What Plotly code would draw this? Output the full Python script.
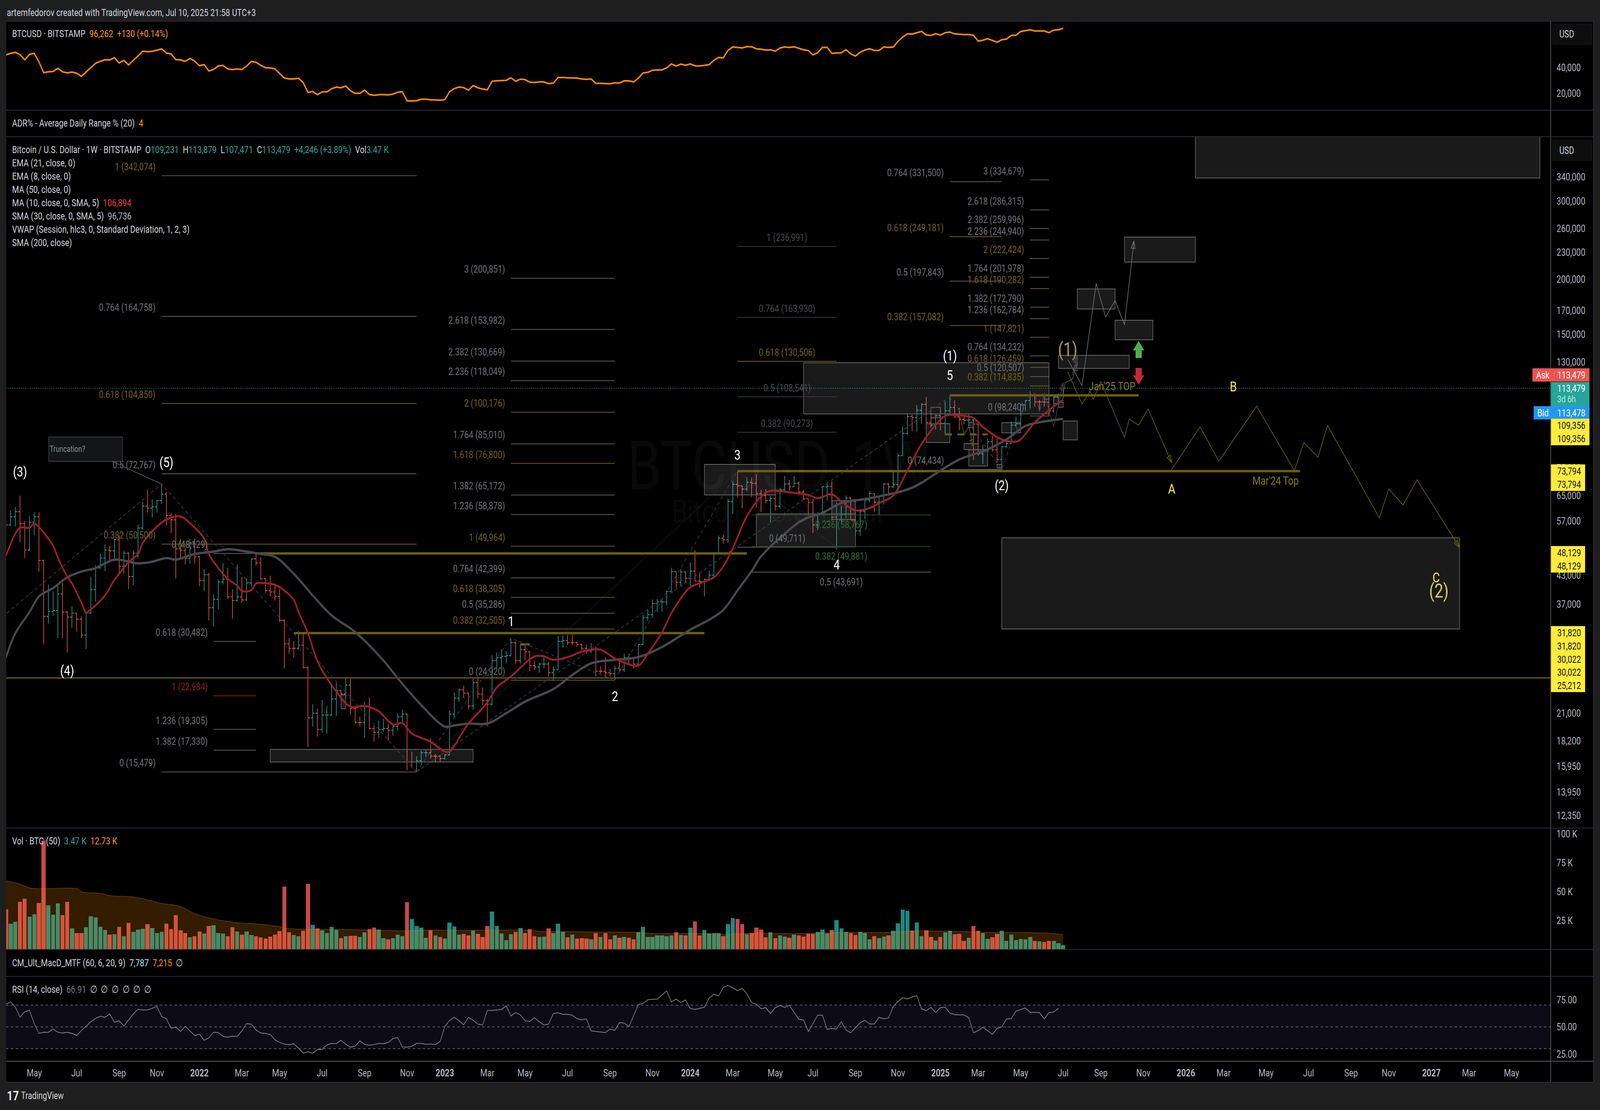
import math
import pandas as pd
import plotly.graph_objects as go

W, H = 5160, 2842

# weekly bars of BITSTAMP:BTCUSD, thousands of USD, first bar is the week of 2021-03-22
first_bar = pd.Timestamp("2021-03-22")

open_k = [
    57.3, 55.8, 58.2, 59.8, 56.2, 49.0, 56.6, 58.2, 46.4, 34.7, 35.6, 35.8, 39.0, 35.5, 34.6, 35.3, 34.2, 31.5, 35.3, 39.9,
    44.6, 47.0, 49.0, 48.8, 51.7, 45.0, 48.2, 42.7, 48.2, 54.9, 61.5, 60.9, 61.3, 63.3, 65.5, 58.6, 57.3, 49.3, 48.9, 46.9, 50.8,
    47.3, 41.8, 43.1, 36.3, 37.9, 41.5, 42.1, 38.4, 37.7, 38.4, 37.8, 41.3, 46.8, 45.8, 42.2, 39.7, 39.4, 38.5, 34.0, 30.1,
    29.4, 29.4, 29.9, 26.6, 20.5, 21.0, 19.3, 20.8, 20.8, 22.6, 23.6, 23.2, 24.3, 21.5, 20.0, 20.0, 21.8, 19.4, 19.0, 19.3,
    19.4, 19.2, 19.6, 20.6, 20.9, 16.3, 16.3, 16.4, 17.1, 17.1, 16.8, 16.8,
    16.6, 16.9, 20.9, 22.7, 23.7, 23.3, 21.8, 24.6, 23.2, 22.4, 22.0, 27.6, 28.0, 28.2, 28.3, 30.3, 27.6, 29.2, 28.9, 26.9,
    26.7, 27.1, 27.1, 25.9, 26.3, 30.5, 30.6, 30.3, 30.3, 30.0, 29.4, 29.0, 29.3, 26.1, 26.1, 25.9, 25.8, 26.5, 26.3, 28.0,
    27.9, 27.1, 30.0, 34.5, 35.0, 37.1, 37.4, 37.4, 39.5, 43.8, 41.4, 43.7,
    42.3, 43.9, 41.7, 41.6, 42.1, 43.0, 48.3, 52.1, 51.7, 63.0, 68.9, 68.4, 67.2, 69.6, 69.3, 65.7, 64.9, 63.4, 64.0, 61.5,
    67.0, 69.0, 68.0, 69.3, 66.2, 63.9, 62.7, 55.8, 59.2, 68.0, 68.2, 58.1, 58.7, 58.9, 64.2, 57.3, 54.1, 59.9, 63.5, 65.7,
    62.8, 62.9, 69.0, 68.0, 68.8, 80.0, 89.8, 98.0, 97.4, 101.2, 104.4, 95.0, 93.7,
    98.4, 94.6, 101.0, 102.7, 97.7, 96.5, 96.1, 96.3, 94.2, 80.7, 82.6, 86.0, 82.4, 78.3, 83.7, 85.1, 93.7, 94.3, 104.1, 106.5,
    109.0, 105.7, 105.7, 105.6, 100.9, 108.3, 109.231,
]
high_k = [
    58.4, 60.2, 61.3, 64.9, 57.0, 58.5, 59.6, 59.6, 46.6, 40.9, 39.5, 41.0, 41.3, 35.7, 36.6, 35.4, 34.7, 35.4, 42.6, 45.3,
    48.1, 50.5, 50.0, 51.9, 52.9, 48.8, 48.4, 49.0, 56.0, 62.9, 67.0, 63.7, 63.5, 69.0, 66.3, 59.4, 59.1, 51.9, 49.5, 51.9, 52.0,
    47.5, 44.4, 43.5, 38.9, 42.0, 45.8, 44.7, 40.0, 45.4, 42.6, 42.3, 46.9, 48.2, 47.2, 42.4, 42.9, 40.8, 40.0, 34.2, 31.0,
    30.5, 32.2, 31.7, 26.8, 22.0, 21.5, 22.5, 21.8, 24.3, 24.6, 23.7, 25.2, 25.1, 21.8, 20.6, 22.3, 22.8, 19.7, 20.2, 20.4,
    19.9, 19.7, 21.0, 21.4, 21.0, 17.2, 16.8, 17.3, 17.4, 18.4, 17.0, 16.9,
    17.0, 21.3, 23.4, 23.9, 24.2, 23.4, 25.2, 25.2, 24.0, 22.6, 28.4, 28.8, 29.2, 29.0, 31.0, 30.5, 30.0, 29.8, 28.9, 27.6,
    27.3, 28.4, 27.4, 26.8, 31.4, 31.4, 31.5, 31.8, 30.4, 30.1, 30.0, 30.2, 29.7, 26.8, 28.1, 26.4, 26.9, 27.4, 28.6, 28.6,
    28.0, 30.0, 35.0, 35.9, 37.9, 38.0, 38.0, 39.7, 44.7, 43.9, 44.4, 43.8,
    45.9, 49.0, 43.6, 42.2, 44.0, 48.5, 52.8, 53.0, 64.0, 70.0, 73.8, 68.5, 71.5, 71.3, 72.7, 66.9, 67.2, 64.7, 65.5, 67.6,
    72.0, 70.5, 72.0, 70.0, 67.0, 64.0, 63.8, 59.6, 68.0, 69.5, 70.0, 62.7, 61.8, 65.0, 64.5, 59.8, 60.6, 64.0, 66.5, 65.7,
    64.4, 69.4, 69.5, 73.6, 81.0, 93.3, 99.6, 98.9, 104.0, 105.0, 108.4, 99.9, 98.9,
    102.7, 106.0, 109.3, 106.5, 102.5, 98.8, 99.5, 96.5, 94.4, 84.5, 87.4, 88.7, 88.5, 84.3, 86.5, 95.7, 97.9, 104.3, 106.7, 111.9,
    110.7, 106.8, 110.6, 108.9, 108.5, 110.5, 113.879,
]
low_k = [
    50.4, 55.4, 55.4, 51.0, 47.0, 48.8, 52.9, 43.8, 30.0, 33.5, 34.8, 31.0, 31.0, 28.8, 32.7, 32.1, 31.0, 29.3, 35.2, 37.5,
    44.6, 43.9, 46.4, 46.7, 43.0, 43.4, 40.0, 40.8, 46.9, 54.4, 59.5, 58.0, 59.5, 62.3, 55.6, 53.5, 42.3, 46.7, 45.5, 45.6, 45.7,
    40.6, 39.6, 34.0, 32.9, 36.0, 41.0, 38.0, 34.3, 37.5, 37.2, 37.6, 40.5, 45.2, 41.9, 39.2, 38.5, 37.7, 33.7, 26.5, 28.6,
    28.0, 29.2, 26.5, 17.6, 19.6, 18.6, 19.0, 18.9, 20.7, 20.7, 22.4, 22.7, 20.8, 19.9, 19.6, 18.5, 19.3, 18.1, 18.5, 19.1,
    18.2, 18.7, 19.2, 20.0, 15.6, 15.8, 15.5, 16.0, 16.7, 16.6, 16.3, 16.3,
    16.5, 16.9, 20.4, 22.3, 22.7, 21.4, 21.4, 22.7, 21.9, 19.6, 21.9, 26.6, 26.5, 27.2, 28.2, 27.1, 27.2, 27.7, 26.1, 26.3,
    25.9, 26.5, 25.4, 24.8, 26.3, 29.5, 29.9, 29.9, 29.6, 29.1, 28.6, 28.7, 25.4, 25.8, 25.3, 25.4, 24.9, 26.0, 26.0, 27.2,
    26.5, 27.1, 29.9, 33.9, 34.5, 35.5, 35.6, 36.7, 39.5, 40.2, 40.5, 41.3,
    40.7, 41.7, 40.3, 38.5, 41.8, 42.3, 48.2, 50.6, 50.9, 59.0, 64.5, 60.8, 66.4, 64.5, 61.0, 59.7, 62.4, 56.5, 60.2, 60.8,
    66.7, 66.7, 68.0, 65.0, 63.4, 58.5, 53.5, 54.3, 59.1, 63.4, 57.1, 49.1, 56.2, 57.8, 57.2, 52.5, 52.7, 57.5, 62.7, 59.8,
    58.9, 62.0, 65.0, 67.6, 66.8, 79.9, 89.3, 90.7, 90.5, 94.3, 92.0, 92.4, 91.5,
    91.2, 89.3, 99.6, 97.7, 91.2, 94.0, 93.3, 78.2, 80.0, 76.6, 81.2, 81.6, 77.1, 74.4, 83.1, 85.0, 92.8, 93.4, 100.8, 102.1,
    103.1, 100.4, 103.0, 98.2, 99.9, 105.1, 107.471,
]
close_k = [
    55.8, 58.2, 59.8, 56.2, 49.0, 56.6, 58.2, 46.4, 34.7, 35.6, 35.8, 39.0, 35.5, 34.6, 35.3, 34.2, 31.5, 35.3, 39.9, 44.6,
    47.0, 49.0, 48.8, 51.7, 45.0, 48.2, 42.7, 48.2, 54.9, 61.5, 60.9, 61.3, 63.3, 65.5, 58.6, 57.3, 49.3, 48.9, 46.9, 50.8, 47.3,
    41.8, 43.1, 36.3, 37.9, 41.5, 42.1, 38.4, 37.7, 38.4, 37.8, 41.3, 46.8, 45.8, 42.2, 39.7, 39.4, 38.5, 34.0, 30.1, 29.4,
    29.4, 29.9, 26.6, 20.5, 21.0, 19.3, 20.8, 20.8, 22.6, 23.6, 23.2, 24.3, 21.5, 20.0, 20.0, 21.8, 19.4, 19.0, 19.3, 19.4,
    19.2, 19.6, 20.6, 20.9, 16.3, 16.3, 16.4, 17.1, 17.1, 16.8, 16.8, 16.6,
    16.9, 20.9, 22.7, 23.7, 23.3, 21.8, 24.6, 23.2, 22.4, 22.0, 27.6, 28.0, 28.2, 28.3, 30.3, 27.6, 29.2, 28.9, 26.9, 26.7,
    27.1, 27.1, 25.9, 26.3, 30.5, 30.6, 30.3, 30.3, 30.0, 29.4, 29.0, 29.3, 26.1, 26.1, 25.9, 25.8, 26.5, 26.3, 28.0, 27.9,
    27.1, 30.0, 34.5, 35.0, 37.1, 37.4, 37.4, 39.5, 43.8, 41.4, 43.7, 42.3,
    43.9, 41.7, 41.6, 42.1, 43.0, 48.3, 52.1, 51.7, 63.0, 68.9, 68.4, 67.2, 69.6, 69.3, 65.7, 64.9, 63.4, 64.0, 61.5, 67.0,
    69.0, 68.0, 69.3, 66.2, 63.9, 62.7, 55.8, 59.2, 68.0, 68.2, 58.1, 58.7, 58.9, 64.2, 57.3, 54.1, 59.9, 63.5, 65.7, 62.8,
    62.9, 69.0, 68.0, 68.8, 80.0, 89.8, 98.0, 97.4, 101.2, 104.4, 95.0, 93.7, 98.4,
    94.6, 101.0, 102.7, 97.7, 96.5, 96.1, 96.3, 94.2, 80.7, 82.6, 86.0, 82.4, 78.3, 83.7, 85.1, 93.7, 94.3, 104.1, 106.5, 109.0,
    105.7, 105.7, 105.6, 100.9, 108.3, 109.2, 113.479,
]

# MA (10, SMA 5) and SMA (30, SMA 5) read at the bar numbers below
ma10_bars = [0, 2, 3, 5, 6, 7, 10, 11, 13, 14, 16, 17, 18, 21, 23, 24, 26, 28, 29, 31, 34, 37, 39, 42, 43, 45, 47, 49, 50, 52,
             53, 54, 57, 59, 61, 62, 64, 66, 68, 70, 73, 76, 79, 82, 84, 86, 90, 93, 94, 97, 98, 102, 104, 107, 112, 114, 116,
             119, 122, 124, 126, 129, 131, 134, 136, 139, 141, 144, 145, 148, 150, 152, 154, 157, 160, 162, 166, 170, 172,
             175, 177, 180, 183, 185, 188, 191, 194, 197, 199, 202, 205, 207, 211, 214, 215, 218, 221, 223, 224]
ma10_k = [47.5, 53.3, 55.0, 55.0, 56.2, 55.2, 50.1, 47.1, 42.7, 41.2, 37.3, 35.4, 36.0, 38.7, 42.0, 43.3, 46.0, 48.0, 50.8, 54.0,
          57.4, 58.3, 56.3, 52.0, 48.0, 44.6, 42.2, 40.7, 39.6, 39.8, 41.2, 41.3, 40.9, 39.7, 37.8, 35.5, 31.8, 27.5, 25.2, 23.5,
          21.7, 21.8, 21.2, 19.8, 19.95, 18.9, 18.1, 17.2, 17.2, 19.2, 19.9, 22.2, 24.0, 25.4, 28.2, 28.2, 27.7, 28.1, 28.9, 29.2,
          29.2, 27.9, 27.3, 26.9, 28.6, 31.9, 35.3, 39.4, 40.4, 41.6, 42.5, 45.0, 49.4, 58.4, 64.6, 66.6, 66.1, 65.2, 64.1, 65.4,
          63.0, 60.2, 60.9, 62.5, 65.0, 74.0, 85.0, 93.8, 98.3, 98.5, 97.2, 92.8, 87.0, 86.0, 87.0, 95.0, 101.2, 105.0, 106.894]
sma30_bars = [0, 2, 5, 7, 10, 13, 16, 19, 23, 28, 31, 34, 36, 40, 44, 47, 50, 54, 57, 61, 65, 69, 74, 80, 83, 88, 93, 95, 98,
              102, 106, 110, 116, 120, 124, 129, 134, 139, 145, 149, 152, 155, 158, 160, 165, 169, 173, 177, 183, 192, 198,
              202, 208, 212, 216, 220, 224]
sma30_k = [28.0, 31.8, 35.5, 38.5, 40.2, 42.5, 43.8, 44.6, 46.6, 45.7, 46.1, 47.0, 46.6, 48.0, 48.6, 49.2, 48.8, 48.0, 47.3, 43.3,
           38.7, 34.9, 32.0, 27.6, 25.2, 21.9, 19.6, 19.7, 19.9, 19.9, 21.0, 22.3, 23.8, 25.6, 27.2, 27.7, 28.1, 29.6, 32.4, 34.1,
           35.9, 39.7, 43.9, 47.4, 53.3, 57.4, 59.4, 62.5, 64.1, 67.7, 74.0, 78.4, 82.6, 87.0, 93.3, 95.5, 96.736]

# volume in thousands of BTC
volume_k = [
    34.8, 22.0, 23.8, 41.0, 43.7, 28.1, 30.2, 40.0, 94.3, 38.2, 29.9, 39.7, 29.4, 41.0, 18.0, 14.1, 13.8, 19.0, 28.4, 27.5,
    19.3, 16.5, 12.5, 12.8, 19.3, 11.4, 22.6, 14.9, 17.0, 17.7, 21.7, 18.3, 13.8, 14.9, 22.0, 17.2, 29.4, 16.2, 13.8, 10.1,
    11.1, 15.3, 13.5, 20.2, 20.7, 14.1, 13.5, 11.1, 19.0, 15.3, 12.5, 15.3, 12.2, 11.4, 10.1, 9.2, 10.8, 12.5, 15.6, 54.3,
    14.6, 12.2, 11.1, 15.9, 56.7, 21.0, 18.0, 16.2, 13.8, 19.3, 16.5, 9.5, 11.1, 11.6, 11.6, 10.4, 14.6, 17.2, 18.6, 16.9,
    9.5, 8.4, 9.5, 12.5, 11.4, 40.6, 26.3, 19.9, 18.6, 9.8, 16.2, 11.9, 10.4, 9.2, 23.0, 19.6, 12.5, 13.2, 11.9, 15.9,
    13.2, 10.4, 19.9, 32.6, 20.2, 13.5, 8.0, 12.8, 14.9, 18.3, 14.1, 17.2, 11.1, 10.4, 10.8, 18.0, 14.1, 22.0,
    14.9, 10.1, 12.5, 9.2, 9.5, 9.2, 8.4, 13.8, 10.4, 14.1, 8.4, 11.9, 9.8, 10.4, 9.8, 8.4, 14.6, 19.3, 10.4, 10.4,
    11.9, 11.9, 11.1, 11.9, 14.6, 12.2, 11.9, 18.6, 24.1, 11.9, 16.5, 13.5, 13.8, 13.8, 11.1, 21.7, 26.8, 26.3, 21.7, 12.8,
    14.1, 18.6, 16.9, 10.1, 14.6, 9.5, 11.9, 10.8, 9.8, 12.5, 11.9, 10.8, 13.2, 13.2, 14.9, 16.9, 13.5, 16.5, 25.1, 18.0,
    14.9, 13.8, 12.2, 14.9, 14.1, 8.4, 11.4, 9.5, 10.8, 11.9, 15.9, 22.3, 34.2, 33.2, 15.9, 23.0, 11.4, 16.2, 10.4, 7.4,
    10.4, 14.6, 15.9, 12.8, 13.2, 7.1, 9.8, 20.2, 15.9, 13.8, 8.8, 10.1, 13.2, 15.9, 7.1, 12.5, 8.0, 8.8, 8.4, 10.4,
    7.1, 6.7, 6.1, 7.1, 7.1, 5.0, 3.47,
]
vol_ma_bars = [0, 3, 5, 7, 10, 15, 16, 20, 22, 27, 30, 33, 36, 38, 40, 43, 46, 50, 52, 58, 59, 64, 67, 74, 82, 84, 89, 97, 104,
               111, 114, 117, 127, 134, 137, 143, 147, 152, 158, 166, 171, 179, 187, 192, 197, 202, 207, 219, 224]
vol_ma_k = [59.3, 56.5, 53.3, 52.5, 52.6, 52.5, 49.8, 48.5, 46.5, 45.3, 42.8, 39.7, 38.0, 35.1, 30.8, 27.2, 24.7, 22.6, 22.3, 19.6,
            18.3, 17.2, 17.2, 16.9, 16.0, 15.9, 16.5, 16.4, 16.5, 16.4, 15.1, 15.3, 14.8, 14.6, 13.6, 13.6, 13.5, 12.8, 13.8, 13.5,
            13.8, 14.6, 14.6, 15.9, 15.7, 15.4, 14.6, 14.1, 12.73]

rsi = [
    70.8, 73.0, 68.2, 58.9, 64.0, 65.2, 53.0, 44.1, 45.1, 45.1, 48.1, 45.1, 44.4, 45.1, 44.1, 42.1, 46.6, 50.8, 54.7, 57.8,
    59.8, 58.9, 61.8, 54.2, 55.7, 50.8, 56.4, 62.0, 66.2, 65.5, 65.7, 67.0, 68.9, 59.5, 57.4, 48.8, 49.7, 45.9, 50.5, 46.3,
    42.1, 43.4, 37.7, 39.9, 45.1, 44.8, 41.2, 40.5, 41.6, 41.2, 46.3, 53.0, 52.5, 47.1, 44.4, 44.1, 43.1, 38.2, 35.7, 34.2,
    33.5, 34.5, 30.4, 25.9, 27.2, 25.7, 29.2, 29.4, 33.3, 34.8, 34.6, 37.7, 34.1, 31.3, 32.4, 37.2, 34.0, 33.1, 33.8, 34.8,
    34.6, 35.7, 39.2, 40.2, 31.6, 31.4, 32.1, 34.8, 34.8, 34.0, 34.3, 33.8, 36.5, 50.5, 56.1, 58.8, 55.7, 52.0, 58.8, 56.1,
    52.5, 51.7, 65.2, 65.2, 65.5, 66.0, 69.4, 60.1, 63.2, 61.1, 55.7, 55.1, 58.4, 54.7, 51.7, 52.7, 62.3, 63.0, 61.5, 61.6,
    60.8, 57.6, 56.4, 57.4, 46.3, 45.8, 45.3, 44.8, 48.0, 46.8, 53.9, 53.5, 50.2, 60.6, 70.6, 71.6, 75.0, 75.3, 75.5, 79.2,
    83.1, 73.0, 75.5, 72.4, 74.8, 66.9, 66.2, 67.0, 68.1, 76.5, 80.0, 78.5, 86.3, 88.1, 85.9, 83.4, 85.3, 80.5, 72.4, 70.8,
    66.7, 67.7, 62.3, 67.7, 69.7, 67.9, 69.9, 63.2, 57.1, 56.2, 45.9, 53.0, 60.8, 60.8, 47.8, 48.5, 48.1, 54.7, 47.1, 44.6,
    49.3, 53.9, 56.1, 52.7, 52.7, 58.8, 57.4, 58.3, 68.6, 73.3, 76.8, 75.7, 77.5, 78.7, 66.5, 65.0, 67.9, 63.3, 67.7, 68.2,
    62.7, 61.3, 61.0, 61.0, 58.4, 44.6, 46.6, 49.7, 46.6, 43.2, 48.5, 50.0, 57.3, 57.6, 64.5, 65.9, 67.4, 63.5, 63.3, 63.2,
    57.3, 63.2, 63.7, 66.91,
]
rsi_levels = [70, 50, 30]

month_ticks = ["2021-05-03", "2021-07-05", "2021-09-06", "2021-11-01", "2022-01-03", "2022-03-07", "2022-05-02", "2022-07-04",
               "2022-09-05", "2022-11-07", "2023-01-02", "2023-03-06", "2023-05-01", "2023-07-03", "2023-09-04", "2023-11-06",
               "2024-01-01", "2024-03-04", "2024-05-06", "2024-07-01", "2024-09-02", "2024-11-04", "2025-01-06", "2025-03-03",
               "2025-05-05", "2025-07-07", "2025-09-01", "2025-11-03", "2026-01-05", "2026-03-02", "2026-05-04", "2026-07-06",
               "2026-09-07", "2026-11-02", "2027-01-04", "2027-03-01", "2027-05-03"]
month_labels = ["May", "Jul", "Sep", "Nov", "<b>2022</b>", "Mar", "May", "Jul", "Sep", "Nov", "<b>2023</b>", "Mar", "May", "Jul",
                "Sep", "Nov", "<b>2024</b>", "Mar", "May", "Jul", "Sep", "Nov", "<b>2025</b>", "Mar", "May", "Jul", "Sep", "Nov",
                "<b>2026</b>", "Mar", "May", "Jul", "Sep", "Nov", "<b>2027</b>", "Mar", "May"]
price_ticks = [340000, 300000, 260000, 230000, 200000, 170000, 150000, 130000, 75000, 65000, 57000, 49000, 43000, 37000, 21000,
               18200, 15950, 13950, 12350]

# fib tools: (level, price, tone) g gray, o olive, r red, d dim, v green
fib_a_levels = [1, 0.764, 0.618, 0.5, 0.382, 0]
fib_a_prices = [342074, 164758, 104850, 72767, 50500, 15479]
fib_a_tones = "ogogog"
fib_b_levels = [0, 0.618, 1, 1.236, 1.382]
fib_b_prices = [48129, 30482, 22984, 19305, 17330]
fib_b_tones = "ggrgg"
fib_c_levels = [3, 2.618, 2.382, 2.236, 2, 1.764, 1.618, 1.382, 1.236, 1, 0.764, 0.618, 0.5, 0.382, 0]
fib_c_prices = [200851, 153982, 130669, 118049, 100176, 85010, 76800, 65172, 58878, 49964, 42399, 38305, 35286, 32505, 24920]
fib_c_tones = "ggggogoggogogog"
fib_d_levels = [1, 0.764, 0.618, 0.5, 0.382, 0]
fib_d_prices = [236991, 163930, 130506, 108541, 90273, 49711]
fib_d_tones = "ddoddg"
fib_e_levels = [0.236, 0.382, 0.5]
fib_e_prices = [58767, 49881, 43691]
fib_e_tones = "vvg"
fib_f_levels = [0.764, 0.618, 0.5, 0.382, 0]
fib_f_prices = [331500, 249181, 197843, 157082, 74434]
fib_f_tones = "gogog"
fib_g_levels = [3, 2.618, 2.382, 2.236, 2, 1.764, 1.618, 1.382, 1.236, 1, 0.764, 0.618, 0.5, 0.382, 0]
fib_g_prices = [334679, 286315, 259996, 244940, 222424, 201978, 190282, 172790, 162784, 147821, 134232, 126459, 120507, 114835, 98240]
fib_g_tones = "ggggogoggogogog"

# rectangles drawn on the chart: first bar, last bar, top price, bottom price
box_from = [252, 237, 227, 235, 223, 169, 224, 211, 195, 196, 204, 203, 210, 211, 204, 220, 222, 223, 56, 71, 148, 159, 175]
box_to = [325, 252, 235, 243, 238, 221, 227, 308, 200, 198, 208, 206, 211, 215, 205, 221, 223, 224, 99, 72, 163, 180, 180]
box_top = [420000, 248700, 190000, 161500, 134600, 129500, 95700, 52200, 94400, 102800, 82500, 85100, 76400, 94900, 94900, 109200,
           108700, 105500, 17400, 23100, 76400, 59100, 63300]
box_bottom = [338000, 218400, 171200, 145900, 125800, 99300, 86800, 32500, 85600, 97300, 75800, 82500, 75000, 90000, 92500, 107200,
              104800, 102800, 16300, 21500, 65200, 49800, 57400]

# horizontal levels with their bar range
level_prices = [109356, 73794, 48129, 31820, 30022]
level_from = [200, 155, 53, 61, 109]
level_to = [240, 274.2, 157, 148, 111]
ray_price = 25212

wave_bars = [0.2, 33, 87, None, 87, 107, 129, 155, None, 87, 200, None, 200, 211, 217]
wave_prices = [35300, 69000, 15479, None, 15479, 31000, 24920, 73794, None, 15479, 108400, None, 108400, 74434, 111900]
dotted_bars = [87, 155, 176]
dotted_prices = [15479, 73794, 49711]

bull_path_bars = [225, 228, 231, 233, 235, 237, 239]
bull_path_prices = [131600, 115100, 195400, 164200, 179000, 157600, 243700]
bear_a_bars = [225, 228, 229.7, 230.4, 232, 237, 238, 240, 242, 247]
bear_a_prices = [123300, 104600, 111700, 107200, 117500, 87900, 96700, 93600, 101900, 77000]
bear_c_bars = [246.9, 253, 257, 265, 273, 275, 278, 280, 291, 293, 296, 299, 308]
bear_c_prices = [74100, 92900, 77700, 103400, 74000, 85600, 79300, 93600, 57900, 67300, 61900, 70500, 49600]
small_a_bars = [218, 219, 220, 221, 222, 224]
small_a_prices = [110500, 100700, 110500, 101300, 93000, 116800]
small_b_bars = [224, 224.4, 226, 227]
small_b_prices = [109200, 116800, 119100, 129200]
small_c_bars = [226, 227]
small_c_prices = [121600, 134600]
small_d_bars = [202.2, 203, 204, 205]
small_d_prices = [97700, 89200, 92900, 83600]
dash_level_bars = [199, 208]
dash_level_prices = [89300, 89300]

# wave labels: bar, price, text
wave_label_bars = [3, 34, 13, 107, 129, 155, 176, 200, 200, 211]
wave_label_prices = [73500, 77200, 26200, 33800, 22900, 80200, 45400, 121300, 134300, 68500]
wave_label_texts = ["(3)", "(5)", "(4)", "1", "2", "3", "4", "5", "(1)", "(2)"]

LABEL = "#d1d4dc"
AXIS = "#b2b5be"
OLIVE = "#6b5e14"
FONT = "Roboto"
TONES = {"g": ("#5c5c60", "#6e7075"), "o": (OLIVE, "#6e6116"), "r": ("#8b1c22", "#8b1c22"),
         "d": ("#38383b", "#47484c"), "v": ("#24492a", "#2f6a36")}


def bar_x(i):
    if i is None:
        return None
    return (first_bar + pd.Timedelta(days=7 * i)).isoformat()


def bars_x(items):
    return [bar_x(i) for i in items]


def pxx(px):
    return px / W


def pxy(py):
    return 1 - py / H


dates = bars_x(range(len(open_k)))
close = [v * 1000 for v in close_k]

fig = go.Figure()
annots = []
shapes = []


def line(xs, ys, color, width=2, dash="solid", yaxis="y2", shape="linear", arrow=0):
    mode = "lines+markers" if arrow else "lines"
    marker = None
    if arrow:
        n = len(xs)
        marker = dict(symbol="arrow-open", angleref="previous", color=color, size=[0] * (n - 1) + [arrow],
                      opacity=[0] * (n - 1) + [1], line=dict(color=color, width=width))
    fig.add_trace(go.Scatter(x=xs, y=ys, mode=mode, marker=marker, line=dict(color=color, width=width, dash=dash, shape=shape),
                             yaxis=yaxis, hoverinfo="skip", showlegend=False))


def note(i, price, text, color, size=26, xanchor="center", xshift=0, yshift=0):
    annots.append(dict(x=bar_x(i), y=math.log10(price), xref="x", yref="y2", text=text, showarrow=False, xanchor=xanchor,
                       yanchor="middle", xshift=xshift, yshift=yshift, font=dict(family=FONT, size=size, color=color)))


def screen_text(px, py, text, color=LABEL, size=25.5, xanchor="left"):
    annots.append(dict(x=pxx(px), y=pxy(py), xref="paper", yref="paper", text=text, showarrow=False, xanchor=xanchor,
                       yanchor="middle", align="left", font=dict(family=FONT, size=size, color=color)))


def span(text, color):
    return f'<span style="color:{color}">{text}</span>'


def rect(x0, y0, x1, y1, fill, layer="above", edge=None):
    shapes.append(dict(type="rect", xref="paper", yref="paper", x0=pxx(x0), x1=pxx(x1), y0=pxy(y0), y1=pxy(y1), fillcolor=fill,
                       layer=layer, line=dict(width=1 if edge else 0, color=edge or fill)))


def fib_group(levels, prices, tones, i0, i1, mode="left"):
    for tone in set(tones):
        xs, ys = [], []
        for price, t in zip(prices, tones):
            if t == tone:
                xs += [bar_x(i0), bar_x(i1), None]
                ys += [price, price, None]
        line(xs, ys, TONES[tone][0], 2)
    for level, price, tone in zip(levels, prices, tones):
        label = f"{level} ({price:,})"
        color = TONES[tone][1]
        if mode == "left":
            note(i0, price, label, color, xanchor="right", xshift=-17, yshift=23)
        elif mode == "center":
            note((i0 + i1) / 2, price, label, color, yshift=23)
        else:
            note((i0 + i1) / 2, price, label, color, yshift=-25)


# frame and panes
rect(20, 54, 5139, 2771, "#000000", layer="below")
rect(5000, 54, 5002, 2771, "#5f6063")
for y_line, c_line in [(54, "#2a2e39"), (282, "#2a2e39"), (350, "#2a2e39"), (2120, "#2a2e39"), (2431, "#2a2e39"), (2500, "#2a2e39"),
                       (2717, "#5a5c62"), (2771, "#2a2e39")]:
    rect(20, y_line - 1, 5139, y_line + 1, c_line)
rect(5138, 54, 5141, 2771, "#2a2e39")

# top pane
line(dates, close, "#ff8a00", 4, yaxis="y")

# boxes first, they sit under the drawings
box_x, box_y = [], []
for a, b, top, bottom in zip(box_from, box_to, box_top, box_bottom):
    box_x += [bar_x(a), bar_x(b), bar_x(b), bar_x(a), bar_x(a), None]
    box_y += [bottom, bottom, top, top, bottom, None]
fig.add_trace(go.Scatter(x=box_x, y=box_y, mode="lines", fill="toself", fillcolor="rgba(255,255,255,0.1)",
                         line=dict(color="#666666", width=2), yaxis="y2", hoverinfo="skip", showlegend=False))

# bars
fig.add_trace(go.Ohlc(x=dates, open=[v * 1000 for v in open_k], high=[v * 1000 for v in high_k], low=[v * 1000 for v in low_k],
                      close=close, yaxis="y2", tickwidth=0.4, line=dict(width=2), hoverinfo="skip", showlegend=False,
                      increasing=dict(line=dict(color="#26a69a", width=2)), decreasing=dict(line=dict(color="#ef5350", width=2))))

# fib tools
fib_group(fib_a_levels, fib_a_prices, fib_a_tones, 33, 87)
fib_group(fib_b_levels, fib_b_prices, fib_b_tones, 44, 53)
fib_group(fib_c_levels, fib_c_prices, fib_c_tones, 107, 129)
fib_group(fib_d_levels, fib_d_prices, fib_d_tones, 155, 176, "center")
fib_group(fib_e_levels, fib_e_prices, fib_e_tones, 158, 196, "below")
fib_group(fib_f_levels, fib_f_prices, fib_f_tones, 200, 211)
fib_group(fib_g_levels, fib_g_prices, fib_g_tones, 217, 221)

# levels
for price, a, b in zip(level_prices, level_from, level_to):
    line([bar_x(a), bar_x(b)], [price, price], OLIVE, 6)
line([bar_x(0), bar_x(327.4)], [ray_price, ray_price], OLIVE, 3)
line(bars_x(dash_level_bars), dash_level_prices, OLIVE, 5, dash="22px,18px")
line([bar_x(0), bar_x(327.4)], [113479, 113479], "#26a69a", 2, dash="2px,5px")

# wave count
line(bars_x(wave_bars), wave_prices, "#3f3f42", 2, dash="10px,8px")
line(bars_x(dotted_bars), dotted_prices, "#3a3a3c", 2, dash="2px,4px")
line(bars_x(small_a_bars), small_a_prices, "#444447", 2, arrow=20)
line(bars_x(small_b_bars), small_b_prices, "#555558", 2, arrow=20)
line(bars_x(small_c_bars), small_c_prices, "#555558", 2, arrow=20)
line(bars_x(small_d_bars), small_d_prices, OLIVE, 2, arrow=20)
line(bars_x(bear_a_bars), bear_a_prices, OLIVE, 2, arrow=20)
line(bars_x(bear_c_bars), bear_c_prices, OLIVE, 2, arrow=20)
line(bars_x(bull_path_bars), bull_path_prices, "#707073", 2, arrow=20)

# moving averages
line(bars_x(sma30_bars), [v * 1000 for v in sma30_k], "#48494e", 6, shape="spline")
line(bars_x(ma10_bars), [v * 1000 for v in ma10_k], "#9c1f2c", 5, shape="spline")

# big arrows
line([bar_x(240), bar_x(240)], [138100, 132700], "#4caf50", 20)
fig.add_trace(go.Scatter(x=[bar_x(240)], y=[140400], mode="markers", marker=dict(symbol="triangle-up", size=32, color="#4caf50"),
                         yaxis="y2", hoverinfo="skip", showlegend=False))
line([bar_x(240), bar_x(240)], [126100, 121100], "#c2293a", 20)
fig.add_trace(go.Scatter(x=[bar_x(240)], y=[119400], mode="markers", marker=dict(symbol="triangle-down", size=32, color="#c2293a"),
                         yaxis="y2", hoverinfo="skip", showlegend=False))

for i, price, text in zip(wave_label_bars, wave_label_prices, wave_label_texts):
    note(i, price, text, "#ffffff", 36)
note(225, 138700, "(1)", "#a89d42", 50)
note(234.4, 114700, "Jan'25 TOP", "#857a1d", 30)
note(269, 70300, "Mar'24 Top", "#857a1d", 30)
note(260, 114500, "B", "#ffeb3b", 36)
note(247, 67200, "A", "#ffeb3b", 36)
note(303, 42400, "C", "#ffeb3b", 36)
note(303.6, 39600, "(2)", "#d4ca5c", 50)

# volume pane
vol_colors = ["#1c8a80" if c >= o else "#c9474a" for o, c in zip(open_k, close_k)]
fig.add_trace(go.Bar(x=dates[:len(volume_k)], y=volume_k, marker=dict(color=vol_colors, line=dict(width=0)), width=1000 * 3600 * 24 * 6,
                     yaxis="y3", hoverinfo="skip", showlegend=False))
fig.add_trace(go.Scatter(x=bars_x(vol_ma_bars), y=vol_ma_k, mode="lines", fill="tozeroy", fillcolor="rgba(255,140,0,0.2)",
                         line=dict(color="rgba(255,140,0,0.28)", width=2, shape="spline"), yaxis="y3", hoverinfo="skip", showlegend=False))

# rsi pane
shapes.append(dict(type="rect", xref="x domain", yref="y4", x0=0, x1=1, y0=rsi_levels[2], y1=rsi_levels[0], fillcolor="#0d0b16",
                   layer="below", line=dict(width=0)))
for lvl in rsi_levels:
    line([bar_x(0), bar_x(327.4)], [lvl, lvl], "#5f6168", 2, dash="8px,8px", yaxis="y4")
line(dates[:len(rsi)], rsi, "#7e8089", 2, yaxis="y4")

# legends
screen_text(20, 32, "artemfedorov created with TradingView.com, Jul 10, 2025 21:58 UTC+3")
screen_text(37, 86, "BTCUSD · BITSTAMP  " + span("96,262  +130 (+0.14%)", "#ff9800"))
screen_text(37, 315, "ADR% - Average Daily Range % (20)  " + span("4", "#ff9800"))
teal = "#26a69a"
screen_text(37, 383, "Bitcoin / U.S. Dollar · 1W · BITSTAMP  O" + span("109,231", teal) + "  H" + span("113,879", teal) + "  L" +
            span("107,471", teal) + "  C" + span("113,479", teal) + "  " + span("+4,246 (+3.89%)", teal) + "  Vol" + span("3.47 K", teal))
screen_text(37, 417, "EMA (21, close, 0)")
screen_text(37, 451, "EMA (8, close, 0)")
screen_text(37, 485, "MA (50, close, 0)")
screen_text(37, 519, "MA (10, close, 0, SMA, 5)  " + span("106,894", "#f23645"))
screen_text(37, 553, "SMA (30, close, 0, SMA, 5)  " + span("96,736", AXIS))
screen_text(37, 587, "VWAP (Session, hlc3, 0, Standard Deviation, 1, 2, 3)")
screen_text(37, 621, "SMA (200, close)")
screen_text(37, 2153, "Vol · BTC (50)  " + span("3.47 K", teal) + "  " + span("12.73 K", "#ff9800"))
screen_text(37, 2465, "CM_Ult_MacD_MTF (60, 6, 20, 9)  " + span("7,787", "#b2ebf2") + "  " + span("7,215", "#ff9800") + "  ∅")
screen_text(37, 2533, "RSI (14, close)  " + span("66.91", "#787b86") + "  ∅  ∅  ∅  ∅  ∅  ∅")
screen_text(20, 2805, "<b>17</b>", "#e8e8e8", 34)
screen_text(66, 2805, "TradingView", "#d8d8d8", 25)

# watermark
screen_text(2511, 1193, "BTCUSD, 1W", "rgba(255,255,255,0.035)", 175, "center")
screen_text(2511, 1310, "Bitcoin / U.S. Dollar", "rgba(255,255,255,0.035)", 80, "center")

# callout
annots.append(dict(x=bar_x(33), y=math.log10(69000), xref="x", yref="y2", text="Truncation?", showarrow=True, arrowhead=0, arrowwidth=2,
                   arrowcolor="#5c5c5c", ax=-245, ay=-89, width=232, height=56, align="left", bgcolor="#131516", bordercolor="#3c3f44",
                   borderwidth=2, borderpad=2, font=dict(family=FONT, size=22, color="#8a8d93")))

# scale tags
for y_tag in (88, 385):
    rect(5007, y_tag - 26, 5133, y_tag + 26, "#0e0e0e", edge="#222222")
    screen_text(5027, y_tag, "USD", LABEL, 25)
rect(4942, 943, 5126, 977, "#ef5350")
screen_text(4952, 960, "Ask", "#ffffff")
screen_text(5020, 960, "113,479", "#ffffff")
rect(5002, 978, 5126, 1040, "#26a69a")
screen_text(5020, 994, "113,479", "#ffffff")
screen_text(5020, 1022, "3d 6h", "#bfe6e1", 24)
rect(4946, 1040, 5126, 1074, "#2196f3")
screen_text(4956, 1057, "Bid", "#ffffff")
screen_text(5020, 1057, "113,478", "#ffffff")
yellow_tags = [("109,356", 1089, 5126), ("109,356", 1123, 5126), ("73,794", 1206, 5112), ("73,794", 1240, 5112), ("48,129", 1415, 5112),
               ("48,129", 1449, 5112), ("31,820", 1620, 5112), ("31,820", 1654, 5112), ("30,022", 1688, 5112), ("30,022", 1721, 5112),
               ("25,212", 1755, 5112)]
for label, y_tag, x_end in yellow_tags:
    rect(5002, y_tag - 17, x_end, y_tag + 17, "#ffeb3b")
    screen_text(5020, y_tag, label, "#131722")

axis_font = dict(family=FONT, size=26, color=AXIS)
common_y = dict(anchor="x", side="right", showgrid=False, zeroline=False, showline=False, ticks="", tickfont=axis_font,
                ticklabelstandoff=18, fixedrange=True)

fig.update_layout(
    width=W,
    height=H,
    margin=dict(l=0, r=0, t=0, b=0),
    paper_bgcolor="#1e1e1e",
    plot_bgcolor="rgba(0,0,0,0)",
    showlegend=False,
    bargap=0,
    annotations=annots,
    shapes=shapes,
    font=dict(family=FONT, size=26, color=LABEL),
    xaxis=dict(domain=[pxx(20), pxx(5001)], range=[bar_x(0.066), bar_x(327.3)], type="date", anchor="y4", showgrid=False, zeroline=False,
               showline=False, ticks="", tickmode="array", tickvals=month_ticks, ticktext=month_labels, tickfont=axis_font,
               ticklabelstandoff=12, rangeslider=dict(visible=False), fixedrange=True),
    yaxis=dict(domain=[pxy(282), pxy(54)], type="log", range=[4.1063, 5.1385], tickmode="array", tickvals=[40000, 20000],
               ticktext=["40,000", "20,000"], **common_y),
    yaxis2=dict(domain=[pxy(2119), pxy(350)], type="log", range=[4.0642, 5.622], tickmode="array", tickvals=price_ticks,
                ticktext=[f"{v:,}" for v in price_ticks], **common_y),
    yaxis3=dict(domain=[pxy(2431), pxy(2120)], range=[-0.3, 105.2], tickmode="array", tickvals=[100, 75, 50, 25],
                ticktext=["100 K", "75 K", "50 K", "25 K"], **common_y),
    yaxis4=dict(domain=[pxy(2717), pxy(2500)], range=[18.5, 96.4], tickmode="array", tickvals=[75, 50, 25],
                ticktext=["75.00", "50.00", "25.00"], **common_y),
)

# the window can be narrower than the figure: squeeze the page to the window width so nothing is cut off
fit_js = """
document.body.style.margin='0';
document.documentElement.style.overflow='hidden';
var plot=document.querySelector('.plotly-graph-div');
plot.style.transformOrigin='0 0';
plot.style.transform='scaleX('+(window.innerWidth/5160)+')';
"""
fig.write_html("out.html", config=dict(displayModeBar=False), post_script=fit_js)
